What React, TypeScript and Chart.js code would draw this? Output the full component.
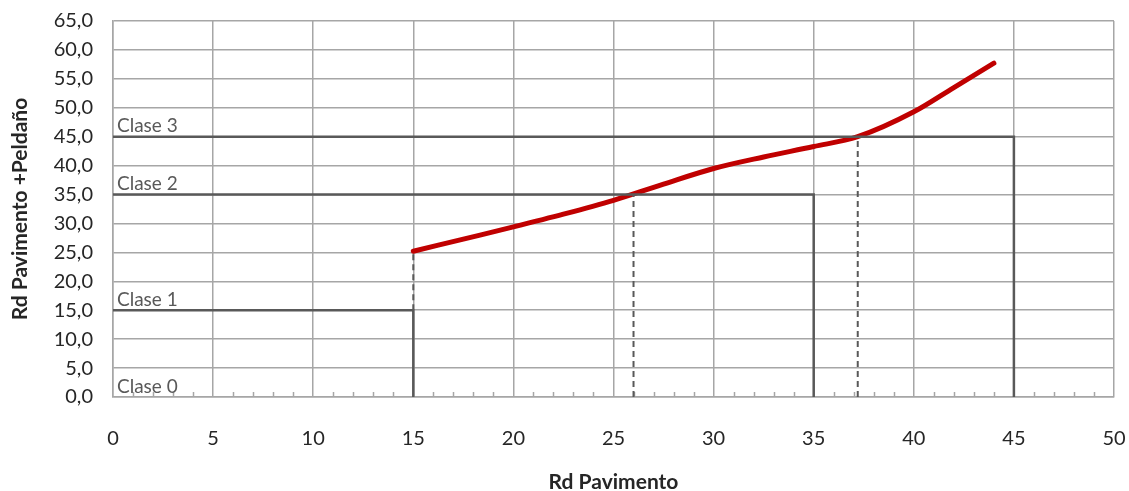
import React, { useEffect, useRef } from "react";
import { Chart, registerables } from "chart.js";

Chart.register(...registerables);

const curveX = [15, 17.5, 20, 22.5, 25, 27.5, 30, 32.5, 35, 37.2, 40, 42, 44];
const curveY = [25.2, 27.3, 29.4, 31.6, 34.0, 36.8, 39.5, 41.5, 43.3, 45.0, 49.3, 53.5, 57.7];

const classLevels = [0, 15, 35, 45];
const classNames = ["Clase 0", "Clase 1", "Clase 2", "Clase 3"];
const class1Line = [[0, 15], [15, 15], [15, 0]];
const class2Line = [[0, 35], [35, 35], [35, 0]];
const class3Line = [[0, 45], [45, 45], [45, 0]];
const dashA = [[15, 15], [15, 25.2]];
const dashB = [[26, 0], [26, 35]];
const dashC = [[37.2, 0], [37.2, 45]];

const xTitle = "Rd Pavimento";
const yTitle = "Rd Pavimento +Peldaño";

const toPts = (a: number[][]) => a.map(([x, y]) => ({ x, y }));

const FONT = "Lato, 'Open Sans', sans-serif";

export default function App() {
  const ref = useRef<HTMLCanvasElement | null>(null);
  useEffect(() => {
    document.body.style.margin = "0";
    const ctx = ref.current!.getContext("2d")!;

    const extras = {
      id: "extras",
      beforeDatasetsDraw(chart: any) {
        const c = chart.ctx;
        const xs = chart.scales.x;
        const ys = chart.scales.y;
        const y0 = ys.getPixelForValue(0);
        c.save();
        c.strokeStyle = "#a6a6a6";
        c.lineWidth = 1.5;
        for (let v = 1; v < 50; v++) {
          if (v % 5 === 0) continue;
          const px = Math.round(xs.getPixelForValue(v)) + 0.5;
          c.beginPath();
          c.moveTo(px, y0);
          c.lineTo(px, y0 - 5);
          c.stroke();
        }
        c.fillStyle = "#595959";
        c.font = `19px ${FONT}`;
        c.textAlign = "left";
        c.textBaseline = "bottom";
        classLevels.forEach((lv, i) => {
          c.fillText(classNames[i], xs.getPixelForValue(0) + 4, ys.getPixelForValue(lv) - 1);
        });
        c.restore();
      },
    };

    const stepDs = (data: number[][]) => ({
      data: toPts(data),
      borderColor: "#595959",
      borderWidth: 2.5,
      pointRadius: 0,
      tension: 0,
      fill: false,
    });
    const dashDs = (data: number[][]) => ({
      data: toPts(data),
      borderColor: "#595959",
      borderWidth: 2,
      borderDash: [6, 4],
      pointRadius: 0,
      tension: 0,
      fill: false,
    });

    const chart = new Chart(ctx, {
      type: "line",
      data: {
        datasets: [
          stepDs(class1Line),
          stepDs(class2Line),
          stepDs(class3Line),
          dashDs(dashA),
          dashDs(dashB),
          dashDs(dashC),
          {
            data: curveX.map((x, i) => ({ x, y: curveY[i] })),
            borderColor: "#c00000",
            borderWidth: 5,
            pointRadius: 0,
            cubicInterpolationMode: "monotone",
            borderCapStyle: "round",
            fill: false,
          } as any,
        ],
      },
      options: {
        animation: false,
        responsive: false,
        maintainAspectRatio: false,
        layout: { padding: { top: 21, right: 15, left: 0, bottom: 0 } },
        plugins: { legend: { display: false }, tooltip: { enabled: false } },
        scales: {
          x: {
            type: "linear",
            min: 0,
            max: 50,
            afterFit: (s: any) => { s.height = 94; s.paddingLeft = 0; s.paddingRight = 0; },
            ticks: {
              stepSize: 5,
              color: "#262626",
              font: { family: FONT, size: 20 },
              padding: 30,
            },
            grid: { color: "#a6a6a6", lineWidth: 1.5, drawTicks: false },
            border: { color: "#a6a6a6", width: 1.5 },
            title: {
              display: true,
              text: xTitle,
              color: "#262626",
              font: { family: FONT, size: 21, weight: "bold" },
              padding: { top: 0, bottom: -4 },
            },
          },
          y: {
            type: "linear",
            min: 0,
            max: 65,
            afterFit: (s: any) => { s.width = 113; s.paddingTop = 0; s.paddingBottom = 0; },
            ticks: {
              stepSize: 5,
              color: "#262626",
              font: { family: FONT, size: 20 },
              padding: 20,
              callback: (v: any) => Number(v).toFixed(1).replace(".", ","),
            },
            grid: { color: "#a6a6a6", lineWidth: 1.5, drawTicks: false },
            border: { color: "#a6a6a6", width: 1.5 },
            title: {
              display: true,
              text: yTitle,
              color: "#262626",
              font: { family: FONT, size: 21, weight: "bold" },
              padding: { top: 8, bottom: 0 },
            },
          },
        },
      },
      plugins: [extras],
    });
    return () => chart.destroy();
  }, []);
  return (
    <div style={{ width: 1129, height: 491 }}>
      <canvas ref={ref} width={1129} height={491} style={{ width: 1129, height: 491 }} />
    </div>
  );
}
